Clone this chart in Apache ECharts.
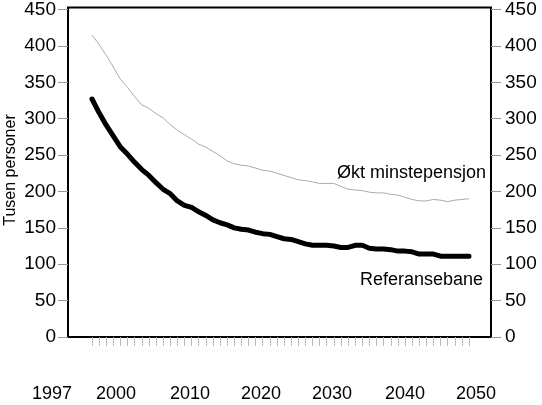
<!DOCTYPE html>
<html>
<head>
<meta charset="utf-8">
<script src="https://cdn.jsdelivr.net/npm/echarts@6/dist/echarts.min.js"></script>
<style>html,body{margin:0;padding:0;background:#fff;}#c{width:542px;height:405px;}</style>
</head>
<body>
<div id="c"></div>
<script>
var years = [];
for (var y = 1997; y <= 2050; y++) years.push(String(y));

var referansebane = [327,308,291,276,261,251,240,230,222,212,203,197,187,181,178,172,167,161,157,154,150,148,147,144,142,141,138,135,134,131,128,126,126,126,125,123,123,126,126,122,121,121,120,118,118,117,114,114,114,111,111,111,111,111];
var oktMinstepensjon = [415,402,387,371,354,343,330,319,314,307,301,292,284,278,272,265,261,255,249,242,238,236,235,232,229,228,225,222,219,216,215,213,211,211,211,207,203,202,201,199,198,198,196,195,192,189,187,187,189,188,186,188,189,190];

var xTickLabels = ['1997','2000','2010','2020','2030','2040','2050'];
var xTickLabelPos = [52, 116, 190, 261, 332, 405, 476];
var yMin = 0, yMax = 450, yStep = 50;
var seriesNames = ['Referansebane', 'Økt minstepensjon'];
var yTitle = 'Tusen personer';

var FONT = 'Liberation Sans, Arial, Helvetica, sans-serif';
var chart = echarts.init(document.getElementById('c'));

var graphics = xTickLabels.map(function (t, i) {
  return { type: 'text', x: xTickLabelPos[i], y: 394,
    style: { text: t, font: '18px ' + FONT, fill: '#000', textAlign: 'center', textVerticalAlign: 'middle' } };
});
graphics.push({ type: 'text', x: 337, y: 173,
  style: { text: seriesNames[1], font: '18px ' + FONT, fill: '#000', textAlign: 'left', textVerticalAlign: 'middle' } });
graphics.push({ type: 'text', x: 360, y: 280,
  style: { text: seriesNames[0], font: '18px ' + FONT, fill: '#000', textAlign: 'left', textVerticalAlign: 'middle' } });
graphics.push({ type: 'text', x: 11, y: 170, rotation: Math.PI / 2,
  style: { text: yTitle, font: '16px ' + FONT, fill: '#000', textAlign: 'center', textVerticalAlign: 'middle' } });

var yLabelStyle = { fontSize: 19, color: '#000', fontFamily: FONT };

chart.setOption({
  animation: false,
  backgroundColor: '#fff',
  grid: [
    { left: 68, right: 51, top: 7.5, bottom: 68, show: true, borderColor: '#000', borderWidth: 2, backgroundColor: 'transparent' },
    { left: 92, right: 73, top: 7.5, bottom: 68 }
  ],
  xAxis: [
    { type: 'value', gridIndex: 0, show: false, min: 0, max: 1 },
    { type: 'category', gridIndex: 1, data: years, boundaryGap: false,
      axisLine: { show: false },
      axisTick: { show: true, interval: 0, length: 9, lineStyle: { color: '#bbb', width: 1 } },
      axisLabel: { show: false }, splitLine: { show: false } }
  ],
  yAxis: [
    { type: 'value', gridIndex: 0, show: false, min: yMin, max: yMax },
    { type: 'value', gridIndex: 1, position: 'left', offset: 24, min: yMin, max: yMax, interval: yStep,
      axisLine: { show: false },
      axisTick: { show: true, length: 10, lineStyle: { color: '#999', width: 1 } },
      axisLabel: Object.assign({ margin: 12 }, yLabelStyle), splitLine: { show: false } },
    { type: 'value', gridIndex: 1, position: 'right', offset: 22, min: yMin, max: yMax, interval: yStep,
      axisLine: { show: false },
      axisTick: { show: true, length: 10, lineStyle: { color: '#999', width: 1 } },
      axisLabel: Object.assign({ margin: 14 }, yLabelStyle), splitLine: { show: false } }
  ],
  series: [
    { name: seriesNames[1], type: 'line', xAxisIndex: 1, yAxisIndex: 1, data: oktMinstepensjon,
      symbol: 'none', lineStyle: { color: '#aaa', width: 1 } },
    { name: seriesNames[0], type: 'line', xAxisIndex: 1, yAxisIndex: 1, data: referansebane,
      symbol: 'none', lineStyle: { color: '#000', width: 5, cap: 'round', join: 'round' } }
  ],
  graphic: graphics
});
</script>
</body>
</html>
